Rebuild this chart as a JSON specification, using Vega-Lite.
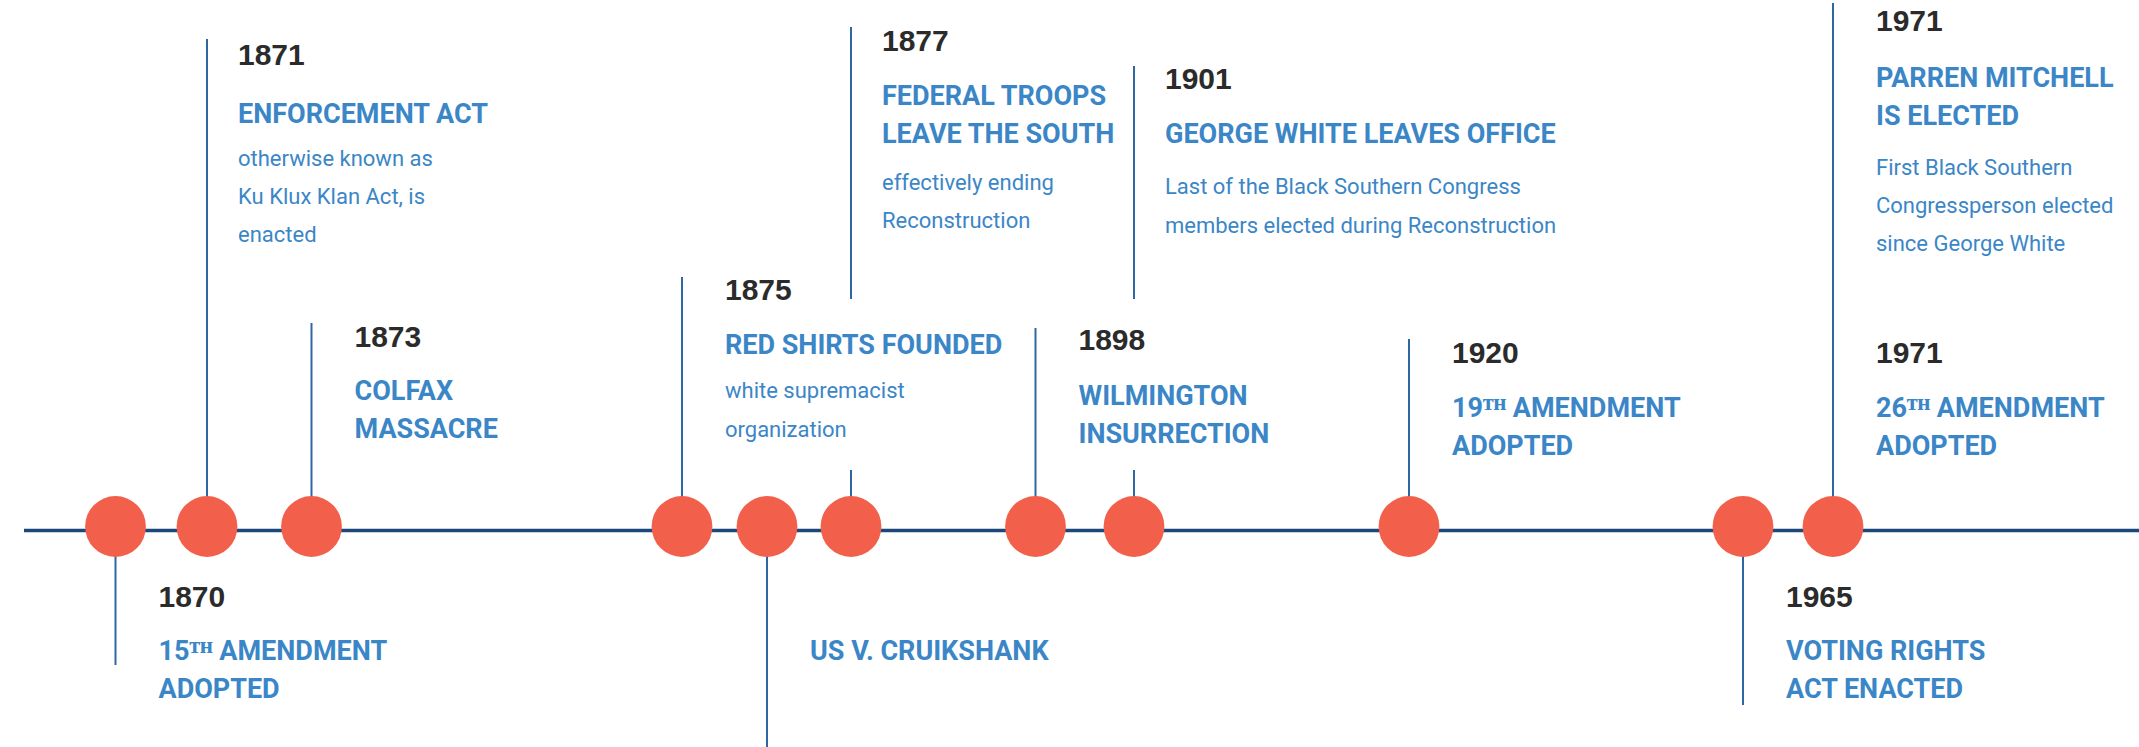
{
  "$schema": "https://vega.github.io/schema/vega-lite/v6.json",
  "width": 2139,
  "height": 747,
  "autosize": "none",
  "padding": 0,
  "background": "white",
  "config": {"view": {"stroke": null}},
  "datasets": {
    "timeline": [{"year": 1869, "yearEnd": 1980, "h": -4}],
    "events": [
      {"year": 1870, "h": 0}, {"year": 1871, "h": 0}, {"year": 1873, "h": 0},
      {"year": 1875, "h": 0}, {"year": 1876, "h": 0}, {"year": 1877, "h": 0},
      {"year": 1898, "h": 0}, {"year": 1901, "h": 0}, {"year": 1920, "h": 0},
      {"year": 1965, "h": 0}, {"year": 1971, "h": 0}
    ],
    "stems": [
      {"year": 1870, "h": 0, "h2": -138.5},
      {"year": 1871, "h": 0, "h2": 487.5},
      {"year": 1873, "h": 0, "h2": 203.5},
      {"year": 1875, "h": 0, "h2": 249.5},
      {"year": 1876, "h": 0, "h2": -220.5},
      {"year": 1877, "h": 227.5, "h2": 499.5},
      {"year": 1877, "h": 0, "h2": 56.5},
      {"year": 1898, "h": 0, "h2": 198.5},
      {"year": 1901, "h": 227.5, "h2": 460.5},
      {"year": 1901, "h": 0, "h2": 56.5},
      {"year": 1920, "h": 0, "h2": 187.5},
      {"year": 1965, "h": 0, "h2": -178.5},
      {"year": 1971, "h": 0, "h2": 523.5}
    ],
    "lines": [
      {"year": 1870, "kind": "year", "text": "1870", "h": -80.5},
      {"year": 1870, "kind": "title", "text": "15ᵀᴴ AMENDMENT", "h": -133.5},
      {"year": 1870, "kind": "title", "text": "ADOPTED", "h": -171.5},

      {"year": 1871, "kind": "year", "text": "1871", "h": 462},
      {"year": 1871, "kind": "title", "text": "ENFORCEMENT ACT", "h": 404},
      {"year": 1871, "kind": "desc", "text": "otherwise known as", "h": 360.5},
      {"year": 1871, "kind": "desc", "text": "Ku Klux Klan Act, is", "h": 322.5},
      {"year": 1871, "kind": "desc", "text": "enacted", "h": 285},

      {"year": 1873, "kind": "year", "text": "1873", "h": 179.5},
      {"year": 1873, "kind": "title", "text": "COLFAX", "h": 126.5},
      {"year": 1873, "kind": "title", "text": "MASSACRE", "h": 88.5},

      {"year": 1875, "kind": "year", "text": "1875", "h": 226.5},
      {"year": 1875, "kind": "title", "text": "RED SHIRTS FOUNDED", "h": 172.5},
      {"year": 1875, "kind": "desc", "text": "white supremacist", "h": 128.5},
      {"year": 1875, "kind": "desc", "text": "organization", "h": 89.5},

      {"year": 1876, "kind": "title", "text": "US V. CRUIKSHANK", "h": -133.5},

      {"year": 1877, "kind": "year", "text": "1877", "h": 475.5},
      {"year": 1877, "kind": "title", "text": "FEDERAL TROOPS", "h": 421.5},
      {"year": 1877, "kind": "title", "text": "LEAVE THE SOUTH", "h": 383.5},
      {"year": 1877, "kind": "desc", "text": "effectively ending", "h": 336.5},
      {"year": 1877, "kind": "desc", "text": "Reconstruction", "h": 298.5},

      {"year": 1898, "kind": "year", "text": "1898", "h": 176.5},
      {"year": 1898, "kind": "title", "text": "WILMINGTON", "h": 121.5},
      {"year": 1898, "kind": "title", "text": "INSURRECTION", "h": 83.5},

      {"year": 1901, "kind": "year", "text": "1901", "h": 437.5},
      {"year": 1901, "kind": "title", "text": "GEORGE WHITE LEAVES OFFICE", "h": 383.5},
      {"year": 1901, "kind": "desc", "text": "Last of the Black Southern Congress", "h": 332.5},
      {"year": 1901, "kind": "desc", "text": "members elected during Reconstruction", "h": 293.5},

      {"year": 1920, "kind": "year", "text": "1920", "h": 163.5},
      {"year": 1920, "kind": "title", "text": "19ᵀᴴ AMENDMENT", "h": 110},
      {"year": 1920, "kind": "title", "text": "ADOPTED", "h": 71.5},

      {"year": 1965, "kind": "year", "text": "1965", "h": -80.5},
      {"year": 1965, "kind": "title", "text": "VOTING RIGHTS", "h": -133.5},
      {"year": 1965, "kind": "title", "text": "ACT ENACTED", "h": -171.5},

      {"year": 1971, "kind": "year", "text": "1971", "h": 496},
      {"year": 1971, "kind": "title", "text": "PARREN MITCHELL", "h": 440},
      {"year": 1971, "kind": "title", "text": "IS ELECTED", "h": 401.5},
      {"year": 1971, "kind": "desc", "text": "First Black Southern", "h": 351.5},
      {"year": 1971, "kind": "desc", "text": "Congressperson elected", "h": 313.5},
      {"year": 1971, "kind": "desc", "text": "since George White", "h": 275.5},

      {"year": 1971, "kind": "year", "text": "1971", "h": 163.5},
      {"year": 1971, "kind": "title", "text": "26ᵀᴴ AMENDMENT", "h": 110},
      {"year": 1971, "kind": "title", "text": "ADOPTED", "h": 71.5}
    ]
  },
  "encoding": {
    "x": {
      "field": "year", "type": "quantitative", "axis": null,
      "scale": {
        "type": "linear", "nice": false, "zero": false,
        "domain": [1869, 1870, 1871, 1873, 1875, 1876, 1877, 1898, 1901, 1920, 1965, 1971, 1980],
        "range": [24, 115.5, 207, 311.5, 682, 767, 851, 1035.5, 1134, 1409, 1743, 1833, 2139]
      }
    },
    "y": {
      "field": "h", "type": "quantitative", "axis": null,
      "scale": {"type": "linear", "nice": false, "zero": false, "domain": [-220.5, 526.5]}
    }
  },
  "layer": [
    {
      "data": {"name": "timeline"},
      "mark": {"type": "rule", "stroke": "#1b477a", "strokeWidth": 3.5},
      "encoding": {"x2": {"field": "yearEnd"}}
    },
    {
      "data": {"name": "stems"},
      "mark": {"type": "rule", "stroke": "#2f67a3", "strokeWidth": 2},
      "encoding": {"y2": {"field": "h2"}}
    },
    {
      "data": {"name": "events"},
      "mark": {"type": "point", "shape": "circle", "filled": true, "size": 3700, "color": "#f2604b", "opacity": 1}
    },
    {
      "data": {"name": "lines"},
      "transform": [{"filter": "datum.kind === 'year' && indexof([1871, 1877, 1901], datum.year) < 0"}],
      "mark": {"type": "text", "align": "left", "baseline": "alphabetic", "dx": 43, "font": "Liberation Sans", "fontWeight": "bold", "fontSize": 30, "color": "#2b2b2b"},
      "encoding": {"text": {"field": "text"}}
    },
    {
      "data": {"name": "lines"},
      "transform": [{"filter": "datum.kind === 'title' && indexof([1871, 1877, 1901], datum.year) < 0"}],
      "mark": {"type": "text", "align": "left", "baseline": "alphabetic", "dx": 43, "font": "Roboto", "fontWeight": "bold", "fontSize": 27, "color": "#3b86c7"},
      "encoding": {"text": {"field": "text"}}
    },
    {
      "data": {"name": "lines"},
      "transform": [{"filter": "datum.kind === 'desc' && indexof([1871, 1877, 1901], datum.year) < 0"}],
      "mark": {"type": "text", "align": "left", "baseline": "alphabetic", "dx": 43, "font": "Roboto", "fontWeight": "normal", "fontSize": 22, "color": "#3b86c7"},
      "encoding": {"text": {"field": "text"}}
    },
    {
      "data": {"name": "lines"},
      "transform": [{"filter": "datum.kind === 'year' && indexof([1871, 1877, 1901], datum.year) >= 0"}],
      "mark": {"type": "text", "align": "left", "baseline": "alphabetic", "dx": 31, "font": "Liberation Sans", "fontWeight": "bold", "fontSize": 30, "color": "#2b2b2b"},
      "encoding": {"text": {"field": "text"}}
    },
    {
      "data": {"name": "lines"},
      "transform": [{"filter": "datum.kind === 'title' && indexof([1871, 1877, 1901], datum.year) >= 0"}],
      "mark": {"type": "text", "align": "left", "baseline": "alphabetic", "dx": 31, "font": "Roboto", "fontWeight": "bold", "fontSize": 27, "color": "#3b86c7"},
      "encoding": {"text": {"field": "text"}}
    },
    {
      "data": {"name": "lines"},
      "transform": [{"filter": "datum.kind === 'desc' && indexof([1871, 1877, 1901], datum.year) >= 0"}],
      "mark": {"type": "text", "align": "left", "baseline": "alphabetic", "dx": 31, "font": "Roboto", "fontWeight": "normal", "fontSize": 22, "color": "#3b86c7"},
      "encoding": {"text": {"field": "text"}}
    }
  ]
}
